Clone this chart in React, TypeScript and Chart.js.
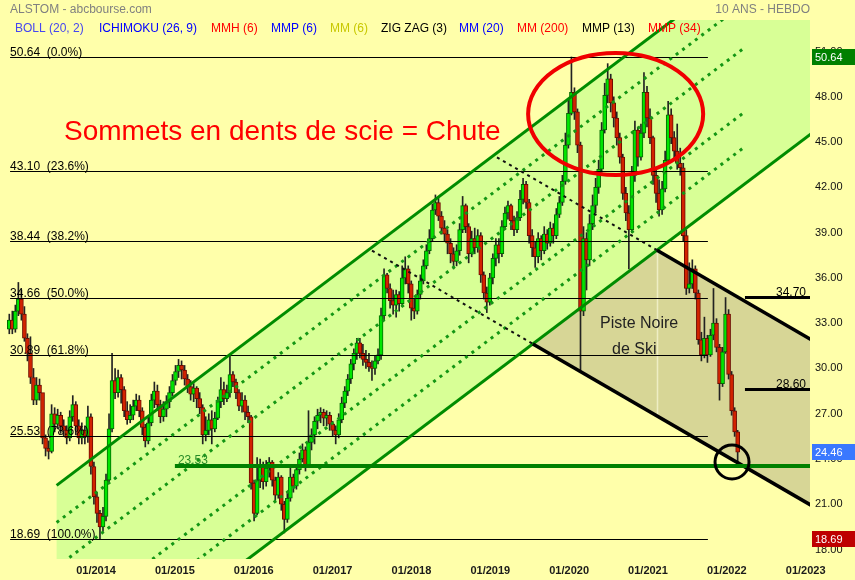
import React, { useEffect, useRef } from "react";
import { Chart, registerables } from "chart.js";

Chart.register(...registerables);

const FONT = "'Liberation Sans', Arial, sans-serif";

// ---- price bars: one bar every two weeks, each opening at the previous close ----
const firstBarYear = 2012.9;
const barStepYears = 14 / 365.25;
const firstOpen = 32.6;

const closes = [
  33.2, 32.6, 33.8, 34.6, 33.6, 32.0, 31.0, 29.4, 27.9, 28.9,
  28.4, 25.4, 24.7, 24.5, 27.0, 26.3, 26.9, 26.2, 25.9, 25.4,
  26.8, 27.6, 26.2, 25.4, 25.9, 25.5, 26.8, 23.5, 21.5, 20.4,
  19.5, 20.2, 22.6, 26.0, 29.2, 28.4, 29.4, 28.6, 27.2, 26.6,
  26.9, 27.5, 27.9, 27.2, 26.1, 25.2, 26.4, 27.9, 28.5, 27.6,
  26.8, 27.3, 27.8, 28.4, 29.2, 29.8, 30.2, 29.9, 29.3, 28.8,
  28.3, 28.7, 28.0, 27.4, 25.6, 25.9, 26.6, 26.0, 26.7, 27.8,
  28.6, 28.0, 28.4, 29.6, 29.1, 28.4, 27.5, 27.9, 27.1, 26.8,
  22.4, 20.4, 22.6, 23.6, 22.5, 23.4, 23.8, 22.6, 21.6, 22.8,
  21.0, 20.0, 21.4, 22.8, 22.2, 23.3, 24.0, 24.6, 23.6, 25.1,
  25.6, 26.5, 26.9, 27.1, 26.7, 26.9, 26.3, 25.9, 25.6, 26.6,
  27.7, 28.5, 29.3, 30.3, 31.0, 31.7, 31.0, 30.6, 30.4, 30.1,
  30.0, 30.5, 30.9, 33.5, 36.2, 35.3, 34.5, 34.2, 34.9, 34.3,
  36.0, 36.6, 35.6, 34.0, 33.8, 34.9, 35.8, 36.8, 37.8, 38.6,
  40.5, 41.0, 40.1, 39.3, 38.9, 38.3, 37.6, 37.1, 37.8, 39.2,
  40.8, 39.4, 37.6, 38.6, 38.0, 38.8, 36.2, 35.0, 34.4, 36.0,
  37.3, 38.2, 37.6, 39.4, 40.3, 40.8, 39.8, 39.2, 40.0, 41.2,
  42.2, 41.0, 38.8, 38.0, 37.4, 38.6, 37.8, 38.9, 38.3, 39.3,
  38.8, 40.2, 41.0, 42.4, 44.8, 46.9, 48.3, 47.0, 44.8, 33.8,
  38.6, 37.2, 39.6, 40.8, 42.0, 43.2, 45.8, 48.1, 49.2, 47.6,
  46.6, 45.3, 44.0, 41.6, 40.3, 39.2, 42.8, 45.8, 44.0, 45.6,
  48.3, 46.6, 45.3, 42.8, 41.6, 40.5, 41.9, 43.8, 46.8, 45.3,
  44.4, 43.6, 43.3, 38.8, 35.3, 35.6, 36.6, 35.0, 31.9, 30.9,
  32.0, 30.9, 32.2, 33.0, 31.4, 29.0, 31.1, 33.6, 29.6, 27.2,
  25.8, 24.46,
];

const highs = [
  33.6, 33.8, 34.2, 35.7, 35.2, 34.1, 32.3, 32.1, 30.0, 29.4,
  29.3, 28.2, 25.6, 25.2, 27.6, 27.4, 27.3, 27.1, 26.6, 26.2,
  27.2, 28.2, 27.8, 26.6, 26.4, 26.2, 27.5, 27.0, 23.8, 21.8,
  20.6, 20.8, 23.0, 27.0, 31.0, 30.0, 29.9, 29.6, 28.8, 27.8,
  27.6, 27.9, 28.3, 28.2, 27.4, 26.3, 26.8, 28.3, 29.1, 28.9,
  27.9, 27.8, 28.2, 28.8, 29.6, 30.2, 30.6, 30.5, 30.2, 29.6,
  29.2, 29.0, 28.8, 28.4, 27.6, 26.8, 27.0, 27.2, 27.1, 28.1,
  29.4, 29.1, 28.9, 30.9, 29.8, 29.3, 28.6, 28.4, 28.2, 27.5,
  26.9, 22.6, 24.1, 24.0, 23.8, 23.9, 24.1, 23.9, 22.8, 23.1,
  22.9, 21.2, 21.8, 23.5, 23.0, 23.6, 24.4, 25.0, 24.8, 27.2,
  26.0, 26.8, 27.3, 27.4, 27.3, 27.2, 27.1, 26.5, 26.2, 27.0,
  28.1, 28.8, 29.6, 30.6, 31.3, 32.0, 32.0, 31.6, 31.2, 31.0,
  30.5, 30.8, 31.3, 34.0, 36.6, 36.3, 35.6, 35.2, 35.2, 35.1,
  36.8, 37.4, 36.8, 35.8, 34.6, 35.2, 36.2, 37.2, 38.2, 39.2,
  40.9, 41.5, 41.3, 40.4, 39.8, 39.2, 38.6, 38.0, 38.2, 39.6,
  41.4, 40.9, 39.6, 39.1, 39.3, 39.2, 39.0, 36.4, 35.4, 36.3,
  37.6, 38.6, 38.6, 39.8, 40.7, 41.1, 40.9, 40.1, 40.4, 41.8,
  42.6, 42.4, 41.2, 39.2, 38.4, 39.0, 38.8, 39.4, 39.2, 39.7,
  39.6, 40.6, 41.4, 42.8, 45.6, 47.8, 50.64, 48.6, 47.2, 45.0,
  39.4, 39.0, 40.2, 41.5, 42.6, 43.8, 46.3, 48.9, 50.2, 49.5,
  48.0, 47.0, 45.6, 44.2, 42.0, 40.8, 43.4, 46.4, 46.0, 46.2,
  49.6, 48.7, 47.2, 45.4, 43.3, 42.5, 42.4, 44.4, 47.7, 47.2,
  45.7, 46.2, 44.6, 43.6, 39.2, 37.0, 37.2, 36.8, 35.2, 32.4,
  33.4, 32.2, 32.6, 35.3, 33.3, 31.6, 31.4, 34.7, 33.9, 29.8,
  27.4, 25.9,
];

const lows = [
  32.3, 32.3, 32.4, 33.5, 33.2, 31.8, 30.5, 29.0, 27.6, 27.6,
  27.9, 25.0, 24.2, 24.0, 24.4, 25.8, 26.0, 25.7, 25.5, 25.0,
  25.2, 26.5, 25.6, 25.0, 25.0, 25.0, 25.1, 23.0, 21.0, 19.8,
  18.69, 19.2, 19.9, 22.4, 25.8, 28.0, 28.1, 27.7, 26.8, 26.3,
  26.4, 26.6, 27.2, 26.8, 25.6, 24.8, 25.0, 26.2, 27.4, 27.2,
  26.4, 26.5, 26.8, 27.4, 28.2, 28.9, 29.4, 29.3, 28.9, 28.4,
  27.9, 27.8, 27.4, 27.0, 25.0, 25.2, 25.6, 25.0, 25.8, 26.6,
  27.4, 27.6, 27.8, 28.1, 28.8, 28.0, 27.2, 27.1, 26.6, 26.4,
  22.0, 19.9, 20.3, 22.1, 22.0, 22.2, 22.8, 22.2, 21.2, 21.4,
  20.6, 19.1, 19.8, 21.2, 21.8, 22.0, 23.0, 23.8, 23.2, 23.5,
  24.6, 25.0, 26.0, 26.4, 26.2, 26.2, 25.9, 25.5, 25.0, 25.4,
  26.4, 27.4, 28.2, 29.0, 29.9, 30.6, 30.7, 30.2, 30.0, 29.8,
  29.2, 29.6, 30.3, 30.6, 33.2, 35.0, 34.0, 33.6, 33.4, 33.8,
  34.1, 35.6, 35.0, 33.2, 33.3, 33.6, 34.6, 35.6, 36.6, 37.6,
  38.4, 40.2, 39.8, 38.9, 38.4, 37.6, 37.0, 36.6, 36.8, 37.5,
  39.0, 39.0, 37.0, 37.4, 37.6, 37.7, 35.7, 34.6, 33.7, 34.2,
  35.6, 36.8, 37.0, 37.4, 39.2, 39.9, 39.2, 38.8, 39.0, 39.8,
  40.9, 40.6, 38.3, 37.4, 36.7, 37.0, 37.2, 37.6, 37.9, 38.1,
  38.3, 38.6, 40.0, 40.8, 42.2, 44.6, 46.8, 46.5, 44.3, 29.9,
  33.5, 35.2, 36.8, 39.2, 40.3, 41.6, 43.0, 45.6, 47.6, 47.0,
  46.0, 44.8, 43.6, 41.2, 39.8, 36.6, 39.0, 42.4, 43.4, 43.8,
  45.3, 46.0, 44.9, 42.2, 41.0, 40.1, 40.2, 41.7, 43.6, 44.9,
  43.8, 43.2, 42.8, 38.4, 34.9, 35.0, 35.3, 34.6, 31.6, 30.5,
  30.7, 30.4, 30.8, 31.9, 31.1, 27.9, 28.8, 31.0, 29.3, 26.9,
  25.5, 23.7,
];

// ---- axes ----
const yearTicks = [2014, 2015, 2016, 2017, 2018, 2019, 2020, 2021, 2022, 2023];
const priceTicks = [18, 21, 24, 27, 30, 33, 36, 39, 42, 45, 48, 51];
const xRange = [2012.782, 2023.055];
const yRange = [17.373, 53.092];

// ---- Fibonacci retracement ----
const fibLevels = [50.64, 43.1, 38.44, 34.66, 30.89, 25.53, 18.69];
const fibPercents = ["0.0", "23.6", "38.2", "50.0", "61.8", "78.6", "100.0"];
const fibSpan = [2012.91, 2021.76];

// ---- rising channel (two parallel borders, dotted inner guides) ----
const channelUpper = [[2013.5, 22.25], [2023.1, 60.13]];
const channelLower = [[2013.5, 7.8], [2023.1, 45.67]];
const channelGuides = [0.17, 0.375, 0.67, 0.83];
const guidesEnd = 2022.2;

// ---- falling "ski slope" channel ----
const slopeUpper = [[2019.085, 43.99], [2023.1, 31.82]];
const slopeLower = [[2017.5, 37.81], [2023.1, 20.84]];

// ---- horizontal levels ----
const supportLevel = 23.53;
const supportFrom = 2015.0;
const targetLevels = [34.7, 28.6];
const targetFrom = 2022.23;

// ---- price tags on the axis ----
const tagValues = [50.64, 24.46, 18.69];
const tagColors = ["rgb(0,128,0)", "rgb(58,120,255)", "rgb(190,0,0)"];

// ---- highlights ----
const topsEllipse = { t: 2020.59, p: 46.86, rt: 1.11, rp: 4.04 };
const lastCircle = { t: 2022.066, p: 23.8, rt: 0.2156, rp: 1.127 };

const legendItems = [
  { text: "BOLL (20, 2)", color: "rgb(70,70,240)", x: 15 },
  { text: "ICHIMOKU (26, 9)", color: "rgb(0,0,255)", x: 99 },
  { text: "MMH (6)", color: "rgb(255,0,0)", x: 211 },
  { text: "MMP (6)", color: "rgb(0,0,255)", x: 271 },
  { text: "MM (6)", color: "rgb(200,200,0)", x: 330 },
  { text: "ZIG ZAG (3)", color: "rgb(0,0,0)", x: 381 },
  { text: "MM (20)", color: "rgb(0,0,255)", x: 459 },
  { text: "MM (200)", color: "rgb(255,0,0)", x: 517 },
  { text: "MMP (13)", color: "rgb(0,0,0)", x: 582 },
  { text: "MMP (34)", color: "rgb(255,0,0)", x: 648 },
];

const BG = "rgb(255,255,170)";
const CHANNEL_FILL = "rgb(216,255,150)";
const SLOPE_FILL = "rgb(215,214,150)";

type Pt = number[];

// intersection of two lines, each given by two (year, price) points
function meet(a: Pt[], b: Pt[]): Pt {
  const s1 = (a[1][1] - a[0][1]) / (a[1][0] - a[0][0]);
  const s2 = (b[1][1] - b[0][1]) / (b[1][0] - b[0][0]);
  const c1 = a[0][1] - s1 * a[0][0];
  const c2 = b[0][1] - s2 * b[0][0];
  const t = (c2 - c1) / (s1 - s2);
  return [t, c1 + s1 * t];
}

function lineAt(l: Pt[], t: number): number {
  const s = (l[1][1] - l[0][1]) / (l[1][0] - l[0][0]);
  return l[0][1] + s * (t - l[0][0]);
}

const decor = {
  id: "decor",
  beforeDraw(chart: any) {
    const { ctx, width, height } = chart;
    ctx.save();
    ctx.fillStyle = BG;
    ctx.fillRect(0, 0, width, height);
    ctx.restore();
  },
  beforeDatasetsDraw(chart: any) {
    const { ctx, chartArea: a } = chart;
    const X = (t: number) => chart.scales.x.getPixelForValue(t);
    const Y = (p: number) => chart.scales.y.getPixelForValue(p);
    ctx.save();
    ctx.beginPath();
    ctx.rect(a.left, a.top, a.right - a.left, a.bottom - a.top);
    ctx.clip();

    ctx.fillStyle = CHANNEL_FILL;
    ctx.beginPath();
    ctx.moveTo(X(channelUpper[0][0]), Y(channelUpper[0][1]));
    ctx.lineTo(X(channelUpper[1][0]), Y(channelUpper[1][1]));
    ctx.lineTo(X(channelLower[1][0]), Y(channelLower[1][1]));
    ctx.lineTo(X(channelLower[0][0]), Y(channelLower[0][1]));
    ctx.closePath();
    ctx.fill();

    const up = meet(slopeUpper, channelLower);
    const lo = meet(slopeLower, channelLower);
    ctx.fillStyle = SLOPE_FILL;
    ctx.beginPath();
    ctx.moveTo(X(lo[0]), Y(lo[1]));
    ctx.lineTo(X(up[0]), Y(up[1]));
    ctx.lineTo(X(slopeUpper[1][0]), Y(slopeUpper[1][1]));
    ctx.lineTo(X(slopeLower[1][0]), Y(slopeLower[1][1]));
    ctx.closePath();
    ctx.fill();

    // pale edge where the slope leaves the channel
    ctx.strokeStyle = "rgb(238,238,196)";
    ctx.lineWidth = 1.5;
    ctx.beginPath();
    const vx = Math.round(X(up[0])) + 0.5;
    ctx.moveTo(vx, Y(up[1]));
    ctx.lineTo(vx, Y(lineAt(slopeLower, up[0])));
    ctx.stroke();
    ctx.restore();
  },
  afterDatasetsDraw(chart: any) {
    const { ctx, chartArea: a } = chart;
    const X = (t: number) => chart.scales.x.getPixelForValue(t);
    const Y = (p: number) => chart.scales.y.getPixelForValue(p);
    ctx.save();
    ctx.beginPath();
    ctx.rect(a.left, a.top, a.right - a.left, a.bottom - a.top);
    ctx.clip();

    // Fibonacci lines and labels
    ctx.strokeStyle = "#000";
    ctx.lineWidth = 1;
    ctx.fillStyle = "#000";
    ctx.font = `12px ${FONT}`;
    ctx.textBaseline = "alphabetic";
    ctx.textAlign = "left";
    fibLevels.forEach((lv, i) => {
      const y = Math.round(Y(lv)) + 0.5;
      const x0 = X(fibSpan[0]);
      ctx.beginPath();
      ctx.moveTo(x0, y);
      ctx.lineTo(X(fibSpan[1]), y);
      ctx.stroke();
      ctx.fillText(`${lv.toFixed(2)}  (${fibPercents[i]}%)`, x0, y - 2);
    });

    // dotted guides inside the rising channel
    const t0 = channelUpper[0][0];
    const t1 = guidesEnd;
    ctx.strokeStyle = "rgb(20,150,20)";
    ctx.lineWidth = 3;
    ctx.setLineDash([3, 5]);
    channelGuides.forEach((f) => {
      const p0 = lineAt(channelUpper, t0) - f * (lineAt(channelUpper, t0) - lineAt(channelLower, t0));
      const p1 = lineAt(channelUpper, t1) - f * (lineAt(channelUpper, t1) - lineAt(channelLower, t1));
      ctx.beginPath();
      ctx.moveTo(X(t0), Y(p0));
      ctx.lineTo(X(t1), Y(p1));
      ctx.stroke();
    });
    ctx.setLineDash([]);

    // channel borders
    ctx.strokeStyle = "rgb(0,140,0)";
    ctx.lineWidth = 3;
    [channelUpper, channelLower].forEach((l) => {
      ctx.beginPath();
      ctx.moveTo(X(l[0][0]), Y(l[0][1]));
      ctx.lineTo(X(l[1][0]), Y(l[1][1]));
      ctx.stroke();
    });

    // falling channel: dotted before it leaves the rising one, solid after
    [slopeUpper, slopeLower].forEach((l) => {
      const m = meet(l, channelLower);
      ctx.strokeStyle = "#111";
      ctx.lineWidth = 2;
      ctx.setLineDash([3, 4]);
      ctx.beginPath();
      ctx.moveTo(X(l[0][0]), Y(l[0][1]));
      ctx.lineTo(X(m[0]), Y(m[1]));
      ctx.stroke();
      ctx.setLineDash([]);
      ctx.strokeStyle = "#000";
      ctx.lineWidth = 3.5;
      ctx.beginPath();
      ctx.moveTo(X(m[0]), Y(m[1]));
      ctx.lineTo(X(l[1][0]), Y(l[1][1]));
      ctx.stroke();
    });

    // support
    const sy = Y(supportLevel);
    ctx.strokeStyle = "rgb(0,128,0)";
    ctx.lineWidth = 4;
    ctx.beginPath();
    ctx.moveTo(X(supportFrom), sy);
    ctx.lineTo(a.right, sy);
    ctx.stroke();
    ctx.fillStyle = "rgb(40,140,40)";
    ctx.font = `12px ${FONT}`;
    ctx.fillText(supportLevel.toFixed(2), X(supportFrom) + 3, sy - 2);

    // targets
    ctx.strokeStyle = "#000";
    ctx.lineWidth = 3;
    ctx.fillStyle = "#000";
    ctx.textAlign = "right";
    targetLevels.forEach((lv) => {
      const y = Y(lv);
      ctx.beginPath();
      ctx.moveTo(X(targetFrom), y);
      ctx.lineTo(a.right, y);
      ctx.stroke();
      ctx.fillText(lv.toFixed(2), a.right - 4, y - 2);
    });
    ctx.textAlign = "left";

    // highlighted tops
    ctx.strokeStyle = "rgb(240,0,0)";
    ctx.lineWidth = 4;
    ctx.beginPath();
    ctx.ellipse(
      X(topsEllipse.t), Y(topsEllipse.p),
      X(topsEllipse.t + topsEllipse.rt) - X(topsEllipse.t),
      Y(topsEllipse.p - topsEllipse.rp) - Y(topsEllipse.p),
      0, 0, Math.PI * 2
    );
    ctx.stroke();

    // last bar marker
    ctx.strokeStyle = "#000";
    ctx.lineWidth = 3;
    ctx.beginPath();
    ctx.ellipse(
      X(lastCircle.t), Y(lastCircle.p),
      X(lastCircle.t + lastCircle.rt) - X(lastCircle.t),
      Y(lastCircle.p - lastCircle.rp) - Y(lastCircle.p),
      0, 0, Math.PI * 2
    );
    ctx.stroke();

    // annotations
    ctx.fillStyle = "rgb(255,0,0)";
    ctx.font = `28px ${FONT}`;
    ctx.fillText("Sommets en dents de scie = Chute", a.left + 64, a.top + 120);
    ctx.fillStyle = "#222";
    ctx.font = `16px ${FONT}`;
    ctx.fillText("Piste Noire", a.left + 600, a.top + 308);
    ctx.fillText("de Ski", a.left + 612, a.top + 334);

    ctx.restore();
  },
  afterDraw(chart: any) {
    const { ctx, chartArea: a, width } = chart;
    const Y = (p: number) => chart.scales.y.getPixelForValue(p);
    ctx.save();
    ctx.textBaseline = "alphabetic";
    ctx.font = `12px ${FONT}`;
    ctx.fillStyle = "rgb(128,128,128)";
    ctx.textAlign = "left";
    ctx.fillText("ALSTOM - abcbourse.com", 10, 13);
    ctx.textAlign = "right";
    ctx.fillText("10 ANS - HEBDO", a.right, 13);
    ctx.textAlign = "left";
    legendItems.forEach((it) => {
      ctx.fillStyle = it.color;
      ctx.fillText(it.text, it.x, 32);
    });

    ctx.font = `11px ${FONT}`;
    ctx.textBaseline = "middle";
    tagValues.forEach((v, i) => {
      const y = Math.round(Y(v));
      ctx.fillStyle = tagColors[i];
      ctx.fillRect(a.right + 2, y - 8, width - a.right - 2, 16);
      ctx.fillStyle = "#fff";
      ctx.fillText(v.toFixed(2), a.right + 5, y + 0.5);
    });
    ctx.restore();
  },
};

export default function App() {
  const ref = useRef<HTMLCanvasElement>(null);

  useEffect(() => {
    const xs = closes.map((_, i) => firstBarYear + i * barStepYears);
    const opens = closes.map((_, i) => (i === 0 ? firstOpen : closes[i - 1]));
    const up = closes.map((c, i) => c >= opens[i]);

    const chart = new Chart(ref.current as HTMLCanvasElement, {
      type: "bar",
      data: {
        datasets: [
          {
            label: "wick",
            data: xs.map((x, i) => ({ x, y: [lows[i], highs[i]] })) as any,
            backgroundColor: "#222",
            borderWidth: 0,
            barThickness: 1,
            grouped: false,
            order: 2,
          } as any,
          {
            label: "body",
            data: xs.map((x, i) => ({ x, y: [opens[i], closes[i]] })) as any,
            backgroundColor: up.map((u) => (u ? "rgb(0,230,0)" : "rgb(210,35,0)")),
            borderColor: up.map((u) => (u ? "rgb(0,105,0)" : "rgb(110,10,0)")),
            borderWidth: 1,
            borderSkipped: false,
            barThickness: 4,
            minBarLength: 1,
            grouped: false,
            order: 1,
          } as any,
        ],
      },
      options: {
        responsive: false,
        devicePixelRatio: 1,
        animation: false,
        events: [],
        layout: { padding: { top: 20, left: 0, right: 0, bottom: 0 } },
        plugins: { legend: { display: false }, tooltip: { enabled: false } },
        scales: {
          x: {
            type: "linear",
            position: "bottom",
            min: xRange[0],
            max: xRange[1],
            offset: false,
            grid: { display: false, drawTicks: false, offset: false },
            border: { display: false },
            ticks: {
              padding: 5,
              color: "#1a1a1a",
              font: { family: FONT, size: 11, weight: "bold" },
              callback: (v: any) => `01/${v}`,
              maxRotation: 0,
              autoSkip: false,
            },
            afterBuildTicks: (s: any) => {
              s.ticks = yearTicks.map((v) => ({ value: v }));
            },
            afterFit: (s: any) => {
              s.height = 21;
            },
          },
          y: {
            type: "linear",
            position: "right",
            min: yRange[0],
            max: yRange[1],
            grid: { display: false, drawTicks: false },
            border: { display: false },
            ticks: {
              padding: 5,
              color: "#111",
              font: { family: FONT, size: 11 },
              callback: (v: any) => Number(v).toFixed(2),
              autoSkip: false,
            },
            afterBuildTicks: (s: any) => {
              s.ticks = priceTicks.map((v) => ({ value: v }));
            },
            afterFit: (s: any) => {
              s.width = 45;
            },
          },
        },
      },
      plugins: [decor],
    } as any);

    return () => chart.destroy();
  }, []);

  return (
    <div style={{ position: "fixed", left: 0, top: 0, width: 855, height: 580 }}>
      <canvas ref={ref} width={855} height={580} style={{ display: "block", width: 855, height: 580 }} />
    </div>
  );
}
